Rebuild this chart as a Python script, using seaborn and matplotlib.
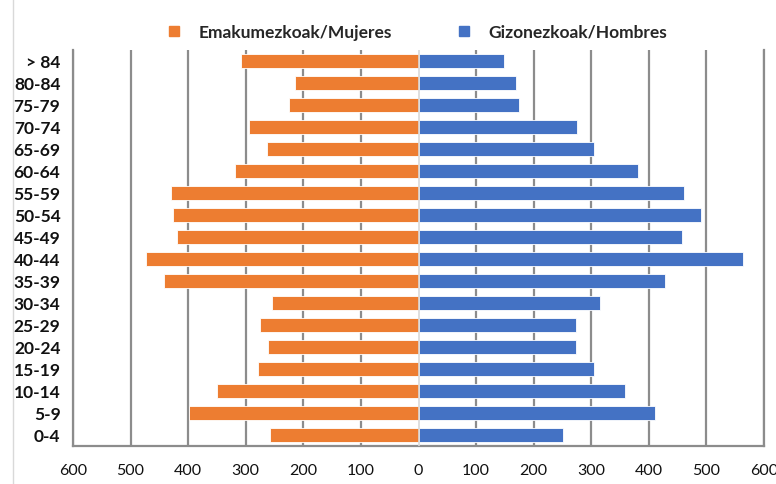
"""
Population pyramid by age group (women vs men)
"""
import numpy as np
import pandas as pd
import matplotlib.pyplot as plt
import seaborn as sns
from matplotlib.lines import Line2D

age_groups = ['> 84', '80-84', '75-79', '70-74', '65-69', '60-64', '55-59', '50-54',
              '45-49', '40-44', '35-39', '30-34', '25-29', '20-24', '15-19', '10-14',
              '5-9', '0-4']
women = [308, 214, 225, 294, 263, 318, 429, 426, 419, 473, 442, 255, 275, 262, 279, 350, 399, 258]
men = [148, 169, 175, 276, 305, 381, 461, 490, 458, 564, 428, 315, 273, 274, 305, 358, 410, 251]
x_ticks = [-600, -500, -400, -300, -200, -100, 0, 100, 200, 300, 400, 500, 600]

label_women = 'Emakumezkoak/Mujeres'
label_men = 'Gizonezkoak/Hombres'
orange = '#ED7D31'
blue = '#4472C4'

df = pd.DataFrame({'age': age_groups, 'women': -np.array(women), 'men': men})

sns.set_style('white')
plt.rcParams['font.family'] = ['Lato', 'DejaVu Sans']

fig = plt.figure(figsize=(7.76, 4.85), dpi=100)
ax = fig.add_axes([73 / 776, 1 - 447 / 485, (764 - 73) / 776, (447 - 51) / 485])

sns.barplot(data=df, y='age', x='women', order=age_groups, color=orange,
            width=0.68, ax=ax, saturation=1, zorder=3, legend=False)
sns.barplot(data=df, y='age', x='men', order=age_groups, color=blue,
            width=0.68, ax=ax, saturation=1, zorder=3, legend=False)
for p in ax.patches:
    p.set_edgecolor('white')
    p.set_linewidth(0.6)

ax.set_xlim(-600, 600)
ax.set_xticks(x_ticks)
ax.set_xticklabels([str(abs(t)) for t in x_ticks], fontsize=11.5, color='#111111')
ax.tick_params(axis='x', pad=12, length=0)
ax.tick_params(axis='y', length=0, pad=9)
for lbl in ax.get_yticklabels():
    lbl.set_fontweight('bold')
    lbl.set_fontsize(12.5)
    lbl.set_color('#111111')
ax.set_xlabel('')
ax.set_ylabel('')

for t in x_ticks:
    if t == 0:
        ax.axvline(0, color='#d9d9d9', lw=1.2, zorder=4)
    else:
        ax.axvline(t, color='#8c8c8c', lw=1.6, zorder=1)

ax.spines['top'].set_visible(False)
for side in ['left', 'bottom', 'right']:
    ax.spines[side].set_color('#8c8c8c')
    ax.spines[side].set_linewidth(1.6)

handles = [Line2D([], [], marker='s', ls='', color=orange, markersize=7),
           Line2D([], [], marker='s', ls='', color=blue, markersize=7)]
fig.legend(handles, [label_women, label_men], loc='center', ncol=2,
           bbox_to_anchor=(412 / 776, 1 - 33 / 485), frameon=False,
           prop={'weight': 'bold', 'size': 12.5}, handletextpad=0.4, columnspacing=3.2)

fig.add_artist(Line2D([13 / 776, 13 / 776], [0, 1], color='#d9d9d9', lw=1,
                      transform=fig.transFigure))

fig.savefig('out.png', dpi=100)
